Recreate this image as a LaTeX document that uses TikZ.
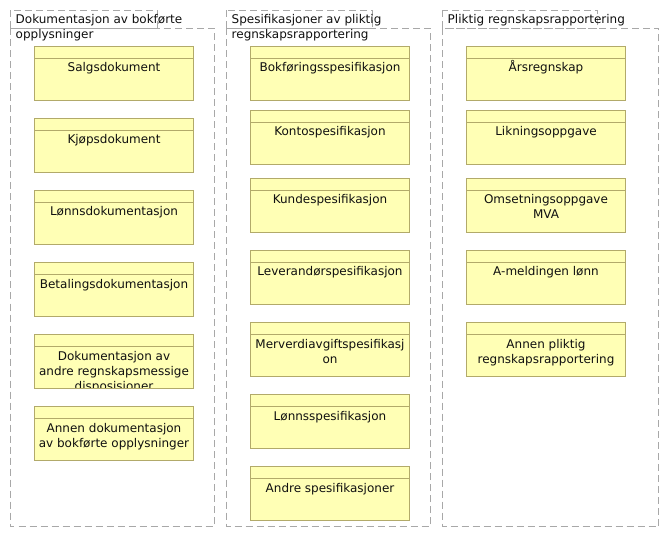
\documentclass[tikz,border=0pt]{standalone}
\usepackage{fontspec}
\setmainfont{DejaVu Sans}
\definecolor{objfill}{HTML}{FFFFB5}
\definecolor{objline}{HTML}{B2AA6A}
\definecolor{grpline}{HTML}{A8A8A8}
\definecolor{txt}{HTML}{101010}
\tikzset{
  grp/.style={draw=grpline, line width=0.9pt, dash pattern=on 7pt off 4pt},
  obj/.style={draw=objline, fill=objfill, line width=0.9pt},
  objlbl/.style={anchor=base, inner sep=0pt, font=\fontsize{12}{15}\selectfont, text=txt},
  grplbl/.style={anchor=base west, inner sep=0pt, font=\fontsize{12}{14.3}\selectfont, text=txt},
}
% \objbox{name}{left}{top}{text}
\newcommand{\objbox}[4]{%
  \draw[obj] (#2,#3) rectangle (#2+159,#3+54);
  \draw[objline, line width=0.9pt] (#2,#3+12) -- (#2+159,#3+12);
  \begin{scope}
    \clip (#2,#3) rectangle (#2+159,#3+54);
    \node[objlbl] (#1) at (#2+79.5,#3+25.5) {\begin{tabular}[t]{@{}c@{}}#4\end{tabular}};
  \end{scope}
  \draw[objline, line width=0.9pt] (#2,#3) rectangle (#2+159,#3+54);
}
\newcommand{\grptitle}[4]{%
  \node[grplbl] (#1) at (#2,#3) {\begin{tabular}[t]{@{}l@{}}#4\end{tabular}};
}
\begin{document}
\begin{tikzpicture}[x=1pt,y=-1pt]
\useasboundingbox[fill=white] (0,0) rectangle (669,537);
% groups
\draw[grp] (10.5,10.5) rectangle (157,28.5);
\draw[grp] (10.5,28.5) rectangle (214,526.5);
\grptitle{g1}{15.5}{24}{Dokumentasjon av bokførte\\opplysninger}
\draw[grp] (226.5,10.5) rectangle (372,28.5);
\draw[grp] (226.5,28.5) rectangle (430,526.5);
\grptitle{g2}{231.5}{24}{Spesifikasjoner av pliktig\\regnskapsrapportering}
\draw[grp] (442.5,10.5) rectangle (597.5,28.5);
\draw[grp] (442.5,28.5) rectangle (658.5,526.5);
\grptitle{g3}{447.5}{24}{Pliktig regnskapsrapportering}
% group 1
\objbox{a1}{34.5}{46.5}{Salgsdokument}
\objbox{a2}{34.5}{118.5}{Kjøpsdokument}
\objbox{a3}{34.5}{190.5}{Lønnsdokumentasjon}
\objbox{a4}{34.5}{262.5}{Betalingsdokumentasjon}
\objbox{a5}{34.5}{334.5}{Dokumentasjon av\\andre regnskapsmessige\\disposisioner}
\objbox{a6}{34.5}{406.5}{Annen dokumentasjon\\av bokførte opplysninger}
% group 2
\objbox{b1}{250.5}{46.5}{Bokføringsspesifikasjon}
\objbox{b2}{250.5}{110.5}{Kontospesifikasjon}
\objbox{b3}{250.5}{178.5}{Kundespesifikasjon}
\objbox{b4}{250.5}{250.5}{Leverandørspesifikasjon}
\objbox{b5}{250.5}{322.5}{Merverdiavgiftspesifikasj\\on}
\objbox{b6}{250.5}{394.5}{Lønnsspesifikasjon}
\objbox{b7}{250.5}{466.5}{Andre spesifikasjoner}
% group 3
\objbox{c1}{466.5}{46.5}{Årsregnskap}
\objbox{c2}{466.5}{110.5}{Likningsoppgave}
\objbox{c3}{466.5}{178.5}{Omsetningsoppgave\\MVA}
\objbox{c4}{466.5}{250.5}{A-meldingen lønn}
\objbox{c5}{466.5}{322.5}{Annen pliktig\\regnskapsrapportering}
\end{tikzpicture}
\end{document}
